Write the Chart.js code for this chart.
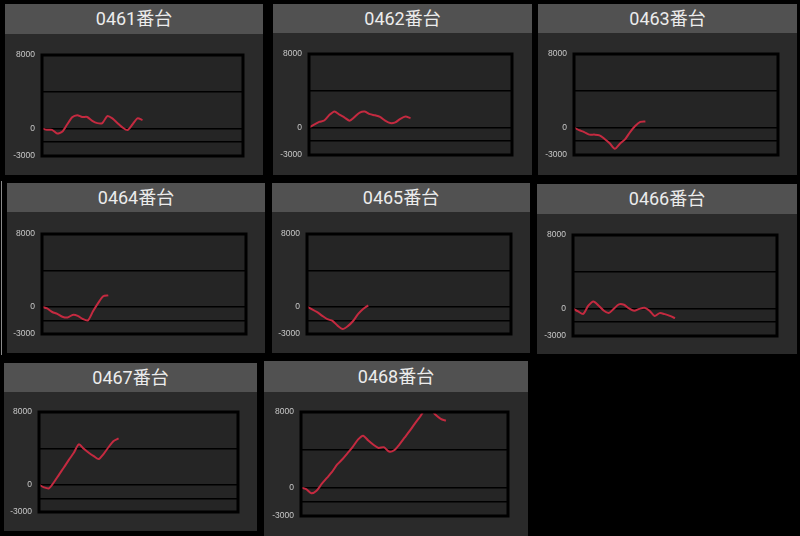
<!DOCTYPE html>
<html>
<head>
<meta charset="utf-8">
<script src="https://cdn.jsdelivr.net/npm/chart.js@4/dist/chart.umd.min.js"></script>
<style>
  html, body { margin:0; padding:0; background:#000; width:800px; height:536px; overflow:hidden; }
  .panel { position:absolute; background:#2a2a2a; }
  .title { position:absolute; left:0; top:0; width:100%; background:#515151; color:#ececec;
           font-family: Roboto, "Noto Sans CJK JP", sans-serif; font-size:18px; text-align:center; }
  .body { position:absolute; left:0; width:100%; }
  .edge { position:absolute; left:1px; top:181px; width:1px; height:174px; background:#8a8a8a; }
</style>
</head>
<body>
<div class="edge"></div>
<script>
// ---- data ----
const titles = ['0461番台','0462番台','0463番台','0464番台','0465番台','0466番台','0467番台','0468番台'];
const xLabels = [0,1,2,3,4,5,6,7,8,9,10,11,12,13,14,15,16,17,18,19,20,21,22,23,24,25,26,27,28,29,30,31,32,33,34,35,36,37,38,39,40];
const yGridValues = [8000, 4000, 0, -1500, -3000];
const yTickLabels = [8000, 0, -3000];
const s0461 = [0,-150,-150,-550,-370,430,1220,1450,1250,1250,830,580,580,1350,1100,600,120,-180,430,1100,920];
const s0462 = [0,300,600,760,1350,1750,1400,1080,740,1150,1620,1730,1450,1320,1150,750,480,560,940,1180,1010];
const s0463 = [0,-300,-500,-780,-780,-860,-1250,-1730,-2330,-1770,-1300,-500,150,600,640];
const s0464 = [0,-190,-580,-780,-1100,-1190,-900,-1000,-1350,-1500,-500,400,1150,1250];
const s0465 = [0,-280,-600,-1000,-1370,-1550,-2080,-2450,-2130,-1600,-820,-250,150];
const s0466 = [0,-330,-600,300,770,330,-220,-500,-30,450,400,0,-260,-50,80,-250,-820,-510,-620,-810,-1060];
const s0467 = [0,-290,-400,270,1090,1890,2730,3520,4440,3950,3520,3150,2830,3400,4150,4800,5100];
const s0468 = [0,-150,-600,-330,390,1030,1660,2450,3000,3650,4300,5080,5500,4980,4540,4200,4280,3820,3950,4560,5280,6000,6770,7500,8250,8300,7700,7280,7080];
const series = [s0461,s0462,s0463,s0464,s0465,s0466,s0467,s0468];
const yMin = -3000, yMax = 8000;

// ---- layout (box left,right,top,bottom, title bottom, chart left,right,top,bottom) ----
const layout = [
  [5,263,4,175,34, 42,243,55,156],
  [273,532,4,175,33, 309,512,54,155],
  [538,797,4,175,33, 574,778,54,155],
  [7,265,183,353,212, 42,246,234,334],
  [272,530,183,353,212, 307,511,234,334],
  [537,797,184,354,214, 573,777,235,336],
  [4,257,363,531,392, 39,238,412,512],
  [264,528,361,536,392, 301,508,412,516]
];

const areaPlugin = {
  id:'area',
  beforeDraw(chart){
    const {ctx, chartArea:a} = chart;
    ctx.save(); ctx.fillStyle = '#252525';
    ctx.fillRect(a.left, a.top, a.right-a.left, a.bottom-a.top);
    ctx.restore();
  },
  afterDraw(chart){
    const {ctx, chartArea:a} = chart;
    ctx.save(); ctx.strokeStyle = '#000'; ctx.lineWidth = 3;
    ctx.strokeRect(a.left, a.top, a.right-a.left, a.bottom-a.top);
    ctx.restore();
  }
};

titles.forEach((t, i) => {
  const [bl, br, bt, bb, tb, cl, cr, ct, cb] = layout[i];
  const panel = document.createElement('div');
  panel.className = 'panel';
  Object.assign(panel.style, {left:bl+'px', top:bt+'px', width:(br-bl)+'px', height:(bb-bt)+'px'});
  const title = document.createElement('div');
  title.className = 'title';
  title.textContent = t;
  Object.assign(title.style, {height:(tb-bt)+'px', lineHeight:(tb-bt)+'px'});
  panel.appendChild(title);
  const body = document.createElement('div');
  body.className = 'body';
  Object.assign(body.style, {top:(tb-bt)+'px', height:(bb-tb)+'px'});
  const canvas = document.createElement('canvas');
  body.appendChild(canvas);
  panel.appendChild(body);
  document.body.appendChild(panel);

  const axisW = cl - bl;
  new Chart(canvas, {
    type:'line',
    data:{ labels:xLabels, datasets:[{ data:series[i], borderColor:'#c42a40', borderWidth:2,
      pointRadius:0, tension:0.25, fill:false }]},
    options:{
      responsive:true, maintainAspectRatio:false, animation:false, devicePixelRatio:1,
      layout:{ padding:{ top:ct-tb, bottom:bb-cb, right:br-cr, left:0 } },
      plugins:{ legend:{display:false}, tooltip:{enabled:false} },
      scales:{
        x:{ display:false, offset:false },
        y:{
          min:yMin, max:yMax,
          afterBuildTicks(scale){ scale.ticks = yGridValues.map(v => ({value:v})); },
          afterFit(scale){ scale.width = axisW; },
          ticks:{ color:'#c8c8c8', font:{size:8.5, family:'"Liberation Sans", Arial, sans-serif'}, padding:7,
            autoSkip:false,
            callback:(v) => yTickLabels.includes(v) ? String(v) : '' },
          grid:{ color:'#000', lineWidth:1.5, drawTicks:false },
          border:{ display:false }
        }
      }
    },
    plugins:[areaPlugin]
  });
});
</script>
</body>
</html>
